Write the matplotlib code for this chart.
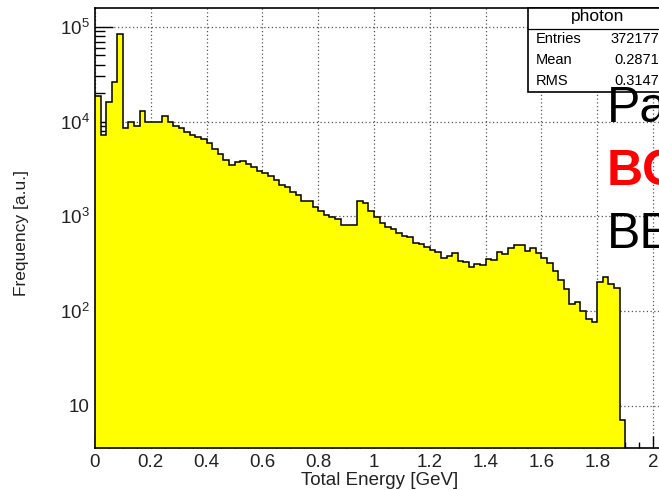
import numpy as np
import matplotlib
matplotlib.use("Agg")
import matplotlib.pyplot as plt
from matplotlib.ticker import FixedLocator, FuncFormatter, MultipleLocator
from matplotlib.patches import Rectangle

plt.rcParams["font.family"] = ["Liberation Sans", "DejaVu Sans"]
plt.rcParams["mathtext.default"] = "regular"

# photon total energy spectrum, 0.02 GeV bins starting at 0
bin_width = 0.02
counts = [
    18500, 7260, 16000, 26400, 83000, 8550, 9820, 9060, 12800, 9820,
    9820, 9820, 11400, 10000, 9000, 8550, 7800, 7300, 6900, 6500,
    6000, 5200, 4600, 3900, 3500, 3750, 3850, 3600, 3350, 3000,
    2850, 2650, 2450, 2150, 2050, 1800, 1690, 1470, 1440, 1250,
    1150, 1040, 975, 935, 813, 813, 813, 1440, 1380, 1150,
    980, 850, 780, 740, 660, 622, 603, 529, 512, 472,
    443, 425, 361, 382, 408, 341, 333, 295, 313, 305,
    356, 345, 420, 402, 461, 500, 500, 435, 461, 414,
    361, 325, 267, 213, 170, 119, 124, 100, 82, 77,
    205, 228, 193, 174, 7.1,
]
stats_title = "photon"
stats_rows = [("Entries", "372177"), ("Mean", "0.2871"), ("RMS", "0.3147")]
overlay = [("Pa", "black", "normal"), ("BO", "red", "bold"), ("BE", "black", "normal")]

counts = np.array(counts, dtype=float)
edges = np.arange(len(counts) + 1) * bin_width

W, H = 659, 490
fig = plt.figure(figsize=(W / 100, H / 100), dpi=100)
fig.patch.set_facecolor("white")

# frame runs past the right edge of the canvas
x0, x1 = 0.0, 2.1
px_per_unit = 279.0
left_px, top_px, bot_px = 95, 8, 448
ax = fig.add_axes([left_px / W, (H - bot_px) / H,
                   (x1 - x0) * px_per_unit / W, (bot_px - top_px) / H])

ymin = 3.6
ax.stairs(counts, edges, baseline=ymin, fill=True, color="#ffff00", zorder=2)
xs = np.concatenate([[edges[0]], np.repeat(edges[1:-1], 2), [edges[-1], edges[-1]]])
ys = np.concatenate([np.repeat(counts, 2), [ymin]])
ax.plot(xs, ys, color="black", lw=1.1, zorder=3, solid_joinstyle="miter")

ax.set_yscale("log")
ax.set_xlim(x0, x1)
ax.set_ylim(ymin, 1.58e5)

ax.xaxis.set_major_locator(MultipleLocator(0.2))
ax.xaxis.set_minor_locator(MultipleLocator(0.05))
ax.xaxis.set_major_formatter(FuncFormatter(lambda v, p: "%g" % round(v, 2)))

decades = [10, 100, 1000, 10000, 100000]
ax.yaxis.set_major_locator(FixedLocator(decades))
minors = [m * d for d in [1, 10, 100, 1000, 10000] for m in range(2, 10)]
minors = [v for v in minors if v not in decades]
ax.yaxis.set_minor_locator(FixedLocator(minors))


def ylab(v, p):
    e = int(round(np.log10(v)))
    return "10" if e == 1 else "10$^{%d}$" % e


ax.yaxis.set_major_formatter(FuncFormatter(ylab))
ax.yaxis.set_minor_formatter(FuncFormatter(lambda v, p: ""))

ax.tick_params(axis="both", which="both", direction="in", colors="black",
               labelsize=13.5, width=1.0, top=False, right=False)
ax.tick_params(axis="x", which="major", length=9, pad=4)
ax.tick_params(axis="x", which="minor", length=4.5)
ax.tick_params(axis="y", which="major", length=13, pad=4)
ax.tick_params(axis="y", which="minor", length=7)
for lbl in ax.get_xticklabels() + ax.get_yticklabels():
    lbl.set_color("#222222")

ax.grid(True, which="major", linestyle=(0, (1, 2)), color="#555555", lw=0.9, zorder=1)
ax.set_axisbelow(True)
for s in ["left", "bottom", "top"]:
    ax.spines[s].set_linewidth(1.2)
    ax.spines[s].set_zorder(4)
ax.spines["right"].set_visible(False)

fig.text(380 / W, 1 - 480 / H, "Total Energy [GeV]", ha="center", va="center",
         fontsize=13.5, color="#222222")
fig.text(22 / W, 1 - 233 / H, "Frequency [a.u.]", ha="center", va="center",
         rotation=90, fontsize=12.5, color="#222222")

# statistics box
bx, by0, by1 = 528, 8, 92
fig.patches.append(Rectangle((bx / W, 1 - by1 / H), (W + 10 - bx) / W, (by1 - by0) / H,
                             transform=fig.transFigure, facecolor="white",
                             edgecolor="black", lw=1.2, zorder=5))
fig.add_artist(plt.Line2D([bx / W, 1.0], [1 - 29 / H, 1 - 29 / H],
                          transform=fig.transFigure, color="black", lw=0.9, zorder=6))
fig.text(598 / W, 1 - 17 / H, stats_title, ha="center", va="center",
         fontsize=12.5, zorder=7)
for i, (name, val) in enumerate(stats_rows):
    yy = 1 - (39 + 21 * i) / H
    fig.text(536 / W, yy, name, ha="left", va="center", fontsize=10.5, zorder=7)
    fig.text(659 / W, yy, val, ha="right", va="center", fontsize=10.5, zorder=7)

# large overlay words running off the right edge
for i, (word, col, wt) in enumerate(overlay):
    fig.text(607 / W, 1 - (122 + 63 * i) / H, word, ha="left", va="baseline",
             fontsize=36, color=col, fontweight=wt, zorder=8)

fig.savefig("out.png", dpi=100)
